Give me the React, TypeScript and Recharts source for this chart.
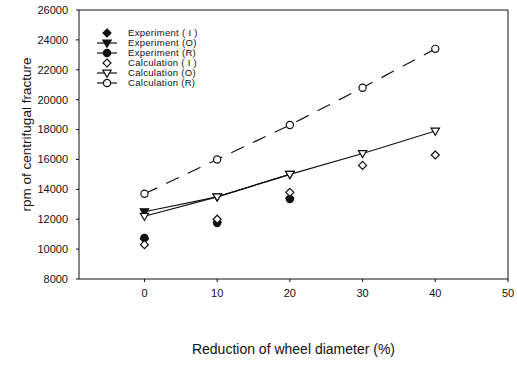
import React from 'react';
import {
  ComposedChart,
  Line,
  XAxis,
  YAxis,
  ReferenceLine,
  Label,
} from 'recharts';

const reduction = [0, 10, 20, 30, 40];
const expI = [10700, 11800, 13400, null, null];
const expO = [12500, 13500, 15000, null, null];
const expR = [10750, 11750, 13350, null, null];
const calcI = [10300, 12000, 13800, 15600, 16300];
const calcO = [12200, 13500, 15000, 16400, 17900];
const calcR = [13700, 16000, 18300, 20800, 23400];

const xTicks = [0, 10, 20, 30, 40, 50];
const yTicks = [8000, 10000, 12000, 14000, 16000, 18000, 20000, 22000, 24000, 26000];

const font = '"Liberation Sans", Arial, sans-serif';
const ink = '#111';

type MarkerKind = 'diamond' | 'triangle' | 'circle';

const Marker = ({ cx, cy, kind, filled }: { cx: number; cy: number; kind: MarkerKind; filled: boolean }) => {
  if (cx == null || cy == null || isNaN(cx) || isNaN(cy)) return null;
  const fill = filled ? ink : '#fff';
  if (kind === 'diamond') {
    const r = 4;
    return (
      <polygon
        points={`${cx},${cy - r} ${cx + r},${cy} ${cx},${cy + r} ${cx - r},${cy}`}
        fill={fill}
        stroke={ink}
        strokeWidth={1.2}
      />
    );
  }
  if (kind === 'triangle') {
    const r = 4.2;
    return (
      <polygon
        points={`${cx - r},${cy - r * 0.7} ${cx + r},${cy - r * 0.7} ${cx},${cy + r}`}
        fill={fill}
        stroke={ink}
        strokeWidth={1.2}
      />
    );
  }
  return <circle cx={cx} cy={cy} r={3.6} fill={fill} stroke={ink} strokeWidth={1.2} />;
};

const series = [
  { key: 'expI', name: 'Experiment ( I )', kind: 'diamond' as MarkerKind, filled: true, line: false, dash: undefined },
  { key: 'expO', name: 'Experiment (O)', kind: 'triangle' as MarkerKind, filled: true, line: true, dash: undefined },
  { key: 'expR', name: 'Experiment (R)', kind: 'circle' as MarkerKind, filled: true, line: false, dash: undefined },
  { key: 'calcI', name: 'Calculation ( I )', kind: 'diamond' as MarkerKind, filled: false, line: false, dash: undefined },
  { key: 'calcO', name: 'Calculation (O)', kind: 'triangle' as MarkerKind, filled: false, line: true, dash: undefined },
  { key: 'calcR', name: 'Calculation (R)', kind: 'circle' as MarkerKind, filled: false, line: true, dash: '14 10' },
];

// legend icons: I series have no line, the others a short line through the marker
const legendLine = [false, true, true, false, true, true];

const data = reduction.map((x, i) => ({
  x,
  expI: expI[i],
  expO: expO[i],
  expR: expR[i],
  calcI: calcI[i],
  calcO: calcO[i],
  calcR: calcR[i],
}));

const ChartLegend = () => (
  <div
    style={{
      position: 'absolute',
      left: 95,
      top: 28,
      fontFamily: font,
      fontSize: 9.5,
      color: ink,
      lineHeight: '10px',
    }}
  >
    {series.map((s, i) => (
      <div key={s.key} style={{ display: 'flex', alignItems: 'center', height: 10 }}>
        <svg width={26} height={10} style={{ overflow: 'visible' }}>
          {legendLine[i] && <line x1={2} x2={22} y1={5} y2={5} stroke={ink} strokeWidth={1.2} />}
          <Marker cx={12} cy={5} kind={s.kind} filled={s.filled} />
        </svg>
        <span style={{ marginLeft: 7, letterSpacing: 0.3 }}>{s.name}</span>
      </div>
    ))}
  </div>
);

const YTitle = (props: any) => {
  const { viewBox } = props;
  const cy = viewBox.y + viewBox.height / 2 - 10;
  return (
    <text
      x={26}
      y={cy}
      transform={`rotate(-90, 26, ${cy})`}
      textAnchor="middle"
      dominantBaseline="central"
      fontFamily={font}
      fontSize={13.5}
      fill={ink}
    >
      rpm of centrifugal fracture
    </text>
  );
};

const App: React.FC = () => {
  return (
    <div style={{ position: 'absolute', left: 0, top: 0, background: '#fff' }}>
      <ComposedChart
        width={517}
        height={366}
        data={data}
        margin={{ top: 10, right: 9, left: 0, bottom: 57 }}
      >
        <XAxis
          type="number"
          dataKey="x"
          domain={[-9, 50]}
          ticks={xTicks}
          allowDataOverflow
          stroke={ink}
          tickSize={3}
          tickLine={{ stroke: ink }}
          tick={{ fill: ink, fontSize: 11, fontFamily: font }}
          tickMargin={7}
        >
          <Label
            value="Reduction of wheel diameter (%)"
            position="insideBottom"
            offset={-45}
            style={{ fill: ink, fontSize: 14, fontFamily: font }}
          />
        </XAxis>
        <YAxis
          type="number"
          domain={[8000, 26000]}
          ticks={yTicks}
          width={79}
          stroke={ink}
          tickSize={3}
          tick={{ fill: ink, fontSize: 11, fontFamily: font }}
          tickMargin={8}
          label={<YTitle />}
        />
        <ReferenceLine y={26000} stroke={ink} strokeWidth={1} />
        <ReferenceLine x={50} stroke={ink} strokeWidth={1} />
        {series.map((s) => (
          <Line
            key={s.key}
            type="linear"
            dataKey={s.key}
            name={s.name}
            stroke={s.line ? ink : 'none'}
            strokeWidth={1.2}
            strokeDasharray={s.dash}
            isAnimationActive={false}
            dot={(p: any) => <Marker key={`${s.key}-${p.index}`} cx={p.cx} cy={p.cy} kind={s.kind} filled={s.filled} />}
            activeDot={false}
          />
        ))}
      </ComposedChart>
      <ChartLegend />
    </div>
  );
};

export default App;
